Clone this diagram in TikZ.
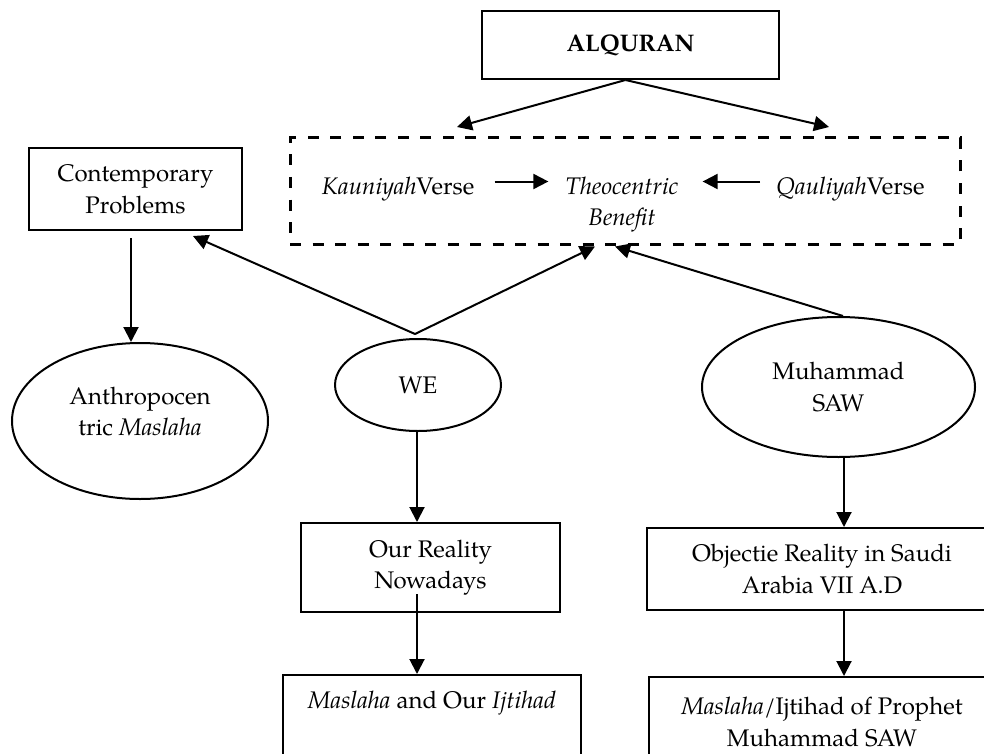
\documentclass[tikz,border=0pt]{standalone}
\usepackage{fontspec}
\setmainfont{TeX Gyre Pagella}
\usetikzlibrary{arrows.meta,shapes.geometric}
\begin{document}
\begin{tikzpicture}[x=1pt,y=-1pt,
  every node/.style={font=\fontsize{24}{31.5}\selectfont},
  box/.style={draw, line width=2pt, rectangle, inner sep=0pt, align=center},
  oval/.style={draw, line width=2pt, ellipse, inner sep=0pt, align=center},
  txt/.style={inner sep=0pt, align=center},
  arr/.style={line width=2pt, -{Triangle[length=15pt,width=15pt]}},
  dashbox/.style={draw, line width=3pt, dash pattern=on 11pt off 11.5pt, inner sep=0pt}]
\clip (0,0) rectangle (984,754);
\useasboundingbox (0,0) rectangle (984,754);
% nodes
\node[box, minimum width=297pt, minimum height=68pt] (alq) at (630.5,45) {\textbf{ALQURAN}};
\node[dashbox, minimum width=670pt, minimum height=106pt] (verses) at (625,191) {};
\node[txt] (kau) at (398,189) {\textit{Kauniyah}Verse};
\node[txt] (theo) at (622,204.5) {\textit{Theocentric}\\\textit{Benefit}};
\node[txt] (qau) at (850.5,189) {\textit{Qauliyah}Verse};
\node[box, minimum width=213pt, minimum height=82pt] (con) at (135.5,189) {Contemporary\\Problems};
\node[oval, minimum width=256pt, minimum height=156pt] (anth) at (140,421) {};
\node[txt] (anthtxt) at (140,411.5) {Anthropocen\\tric \textit{Maslaha}};
\node[oval, minimum width=166pt, minimum height=92pt] (we) at (418,385) {WE};
\node[oval, minimum width=273pt, minimum height=140pt] (muh) at (838.5,387) {Muhammad\\SAW};
\node[box, minimum width=259pt, minimum height=89pt] (our) at (430.5,567.5) {Our Reality\\Nowadays};
\node[box, minimum width=298pt, minimum height=110pt] (mas) at (432,730) {};
\node[txt] (mastxt) at (432,703) {\textit{Maslaha} and Our \textit{Ijtihad}};
\node[box, minimum width=350pt, minimum height=82pt] (obj) at (822,569) {Objectie Reality in Saudi\\Arabia VII A.D};
\node[box, minimum width=348pt, minimum height=110pt] (mup) at (823,732) {};
\node[txt] (muptxt) at (822,722) {\textit{Maslaha}/Ijtihad of Prophet\\Muhammad SAW};
% coordinates
\coordinate (ktip) at (457,127);
\coordinate (qtip) at (829,127);
\coordinate (alqs) at ([xshift=-5pt]alq.south);
\coordinate (weap) at ([xshift=-3pt,yshift=4pt]we.north);
\coordinate (contip) at ([xshift=57.5pt,yshift=-5pt]con.south);
\coordinate (vtipl) at ([xshift=-30pt,yshift=-1pt]verses.south);
\coordinate (vtipr) at ([xshift=-10pt,yshift=-1pt]verses.south);
\coordinate (muht) at ([xshift=4.5pt]muh.north);
\coordinate (kauar) at ([yshift=7.5pt]kau.east);
\coordinate (qauar) at ([yshift=7.5pt]qau.west);
\coordinate (conb) at ([xshift=-4.5pt,yshift=-7pt]con.south);
\coordinate (antht) at ([xshift=-9pt]anth.north);
\coordinate (web) at ([xshift=-1pt]we.south);
\coordinate (ourb) at ([yshift=19pt]our.south);
\coordinate (muhb) at ([xshift=5.5pt]muh.south);
% connectors
\draw[arr] (alqs) -- (ktip);
\draw[arr] (alqs) -- (qtip);
\draw[arr, shorten <=20pt, shorten >=17pt] (kauar) -- (kauar -| theo.west);
\draw[arr, shorten <=16pt, shorten >=24pt] (qauar) -- (qauar -| theo.east);
\draw[arr] (conb) -- (antht);
\draw[arr] (weap) -- (contip);
\draw[arr] (weap) -- (vtipl);
\draw[arr] (muht) -- (vtipr);
\draw[arr] (web) -- (web |- our.north);
\draw[arr] (ourb -| web) -- (web |- mas.north);
\draw[arr] (muhb) -- (muhb |- obj.north);
\draw[arr] (muhb |- obj.south) -- (muhb |- mup.north);
\end{tikzpicture}
\end{document}
